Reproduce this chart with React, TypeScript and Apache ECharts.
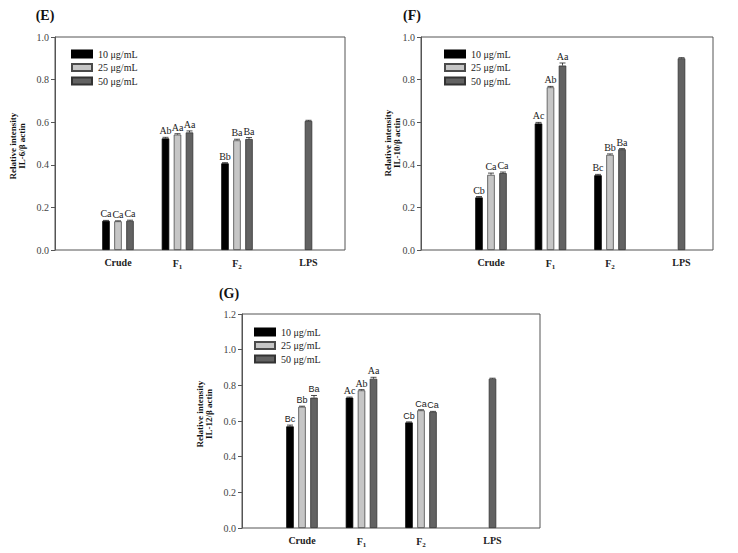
import React, { useEffect, useRef } from 'react';
import * as echarts from 'echarts';

// ---------- data ----------
const CATEGORIES = ['Crude', 'F1', 'F2', 'LPS'];
const DOSES = ['10 μg/mL', '25 μg/mL', '50 μg/mL'];

// (E) IL-6
const IL6_10 = [0.137, 0.524, 0.407, null];
const IL6_25 = [0.135, 0.542, 0.515, null];
const IL6_50 = [0.137, 0.552, 0.521, 0.606];
const IL6_10_ERR = [0.002, 0.005, 0.003, null];
const IL6_25_ERR = [0.002, 0.004, 0.005, null];
const IL6_50_ERR = [0.003, 0.007, 0.007, 0.003];
const IL6_10_SIG = ['Ca', 'Ab', 'Bb', ''];
const IL6_25_SIG = ['Ca', 'Aa', 'Ba', ''];
const IL6_50_SIG = ['Ca', 'Aa', 'Ba', ''];

// (F) IL-10
const IL10_10 = [0.247, 0.594, 0.351, null];
const IL10_25 = [0.353, 0.764, 0.447, null];
const IL10_50 = [0.361, 0.866, 0.473, 0.9];
const IL10_10_ERR = [0.004, 0.005, 0.004, null];
const IL10_25_ERR = [0.008, 0.004, 0.004, null];
const IL10_50_ERR = [0.005, 0.012, 0.003, 0.003];
const IL10_10_SIG = ['Cb', 'Ac', 'Bc', ''];
const IL10_25_SIG = ['Ca', 'Ab', 'Bb', ''];
const IL10_50_SIG = ['Ca', 'Aa', 'Ba', ''];

// (G) IL-12
const IL12_10 = [0.57, 0.731, 0.592, null];
const IL12_25 = [0.68, 0.772, 0.66, null];
const IL12_50 = [0.731, 0.837, 0.651, 0.837];
const IL12_10_ERR = [0.007, 0.003, 0.003, null];
const IL12_25_ERR = [0.003, 0.004, 0.003, null];
const IL12_50_ERR = [0.012, 0.008, 0.003, 0.003];
const IL12_10_SIG = ['Bc', 'Ac', 'Cb', ''];
const IL12_25_SIG = ['Bb', 'Ab', 'Ca', ''];
const IL12_50_SIG = ['Ba', 'Aa', 'Ca', ''];
const IL12_SIG_SANS = [true, false, true, false];

const Y_MAX_IL6 = 1.0;
const Y_MAX_IL10 = 1.0;
const Y_MAX_IL12 = 1.2;
const Y_STEP = 0.2;

// ---------- styles ----------
const SERIF = "'Liberation Serif', 'Times New Roman', serif";
const SANS = "'Liberation Sans', Arial, sans-serif";
const BAR_W = 7.5;
const BAR_GAP = 4.5;
const PITCH = BAR_W + BAR_GAP;
const FILLS = ['#000000', '#c6c6c6', '#626262'];
const BORDERS = ['#000000', '#4a4a4a', '#333333'];
const AXIS_C = '#555555';
const TEXT_C = '#222222';

const PANELS = [
  {
    tag: '(E)', tagX: 45, tagY: 15,
    frame: { left: 55, top: 37, width: 290, height: 213 },
    dataLeft: 88.25, yMax: Y_MAX_IL6,
    legend: { left: 71, top: 48 },
    title: { x: 17, y: 146, text: 'Relative intensity\nIL-6/β actin' },
    values: [IL6_10, IL6_25, IL6_50],
    errs: [IL6_10_ERR, IL6_25_ERR, IL6_50_ERR],
    sigs: [IL6_10_SIG, IL6_25_SIG, IL6_50_SIG],
    sans: null as null | boolean[],
  },
  {
    tag: '(F)', tagX: 412, tagY: 15,
    frame: { left: 421, top: 37, width: 292, height: 213 },
    dataLeft: 461.25, yMax: Y_MAX_IL10,
    legend: { left: 444, top: 48 },
    title: { x: 392.5, y: 143, text: 'Relative intensity\nIL-10/β actin' },
    values: [IL10_10, IL10_25, IL10_50],
    errs: [IL10_10_ERR, IL10_25_ERR, IL10_50_ERR],
    sigs: [IL10_10_SIG, IL10_25_SIG, IL10_50_SIG],
    sans: null as null | boolean[],
  },
  {
    tag: '(G)', tagX: 229, tagY: 293,
    frame: { left: 242, top: 314, width: 298, height: 214 },
    dataLeft: 272.25, yMax: Y_MAX_IL12,
    legend: { left: 254, top: 326 },
    title: { x: 204.5, y: 414, text: 'Relative intensity\nIL-12/β actin' },
    values: [IL12_10, IL12_25, IL12_50],
    errs: [IL12_10_ERR, IL12_25_ERR, IL12_50_ERR],
    sigs: [IL12_10_SIG, IL12_25_SIG, IL12_50_SIG],
    sans: IL12_SIG_SANS as null | boolean[],
  },
];

function buildOption() {
  const grid: any[] = [];
  const xAxis: any[] = [];
  const yAxis: any[] = [];
  const series: any[] = [];
  const legend: any[] = [];
  const graphic: any[] = [];

  PANELS.forEach((p, pi) => {
    const frameIdx = pi * 2;
    const dataIdx = pi * 2 + 1;
    const catW = 59.5 * CATEGORIES.length;
    const pxPerUnit = p.frame.height / p.yMax;
    grid.push({
      left: p.frame.left, top: p.frame.top, width: p.frame.width, height: p.frame.height,
      show: true, borderColor: AXIS_C, borderWidth: 1, backgroundColor: 'transparent',
    });
    grid.push({
      left: p.dataLeft, top: p.frame.top, width: catW, height: p.frame.height, show: false,
    });
    xAxis.push({ type: 'value', gridIndex: frameIdx, show: false, min: 0, max: 1 });
    xAxis.push({
      type: 'category', gridIndex: dataIdx, data: CATEGORIES,
      axisLine: { show: false }, axisTick: { show: false }, splitLine: { show: false },
      axisLabel: {
        margin: 7, interval: 0,
        fontFamily: SERIF, fontWeight: 'bold', fontSize: 10, color: TEXT_C,
        formatter: (v: string) => {
          if (v === 'F1') return 'F{sub|1}';
          if (v === 'F2') return 'F{sub|2}';
          if (v === 'LPS') return '{lps|LPS}';
          return v;
        },
        rich: {
          sub: { fontFamily: SERIF, fontWeight: 'bold', fontSize: 7, color: TEXT_C, padding: [6, 0, 0, 0] },
          lps: { fontFamily: SERIF, fontWeight: 'bold', fontSize: 10, color: TEXT_C, padding: [0, 0, 0, 2 * PITCH] },
        },
      },
    });
    yAxis.push({
      type: 'value', gridIndex: frameIdx, min: 0, max: p.yMax, interval: Y_STEP,
      axisLine: { show: true, lineStyle: { color: AXIS_C, width: 1 } },
      axisTick: { show: true, inside: false, length: 4, lineStyle: { color: AXIS_C } },
      splitLine: { show: false },
      axisLabel: {
        margin: 6, fontFamily: SERIF, fontSize: 10, color: '#444444',
        formatter: (v: number) => v.toFixed(1),
      },
    });
    yAxis.push({ type: 'value', gridIndex: dataIdx, min: 0, max: p.yMax, show: false });

    p.values.forEach((vals, di) => {
      const errs = p.errs[di];
      const sigs = p.sigs[di];
      series.push({
        type: 'bar', name: DOSES[di], xAxisIndex: dataIdx, yAxisIndex: dataIdx,
        data: vals.map((v, ci) => {
          if (v == null) return '-';
          const sans = p.sans ? p.sans[ci] : false;
          return {
            value: v,
            label: {
              show: !!sigs[ci],
              distance: 1.5 + (errs[ci] ?? 0) * pxPerUnit,
              fontFamily: sans ? SANS : SERIF,
              fontSize: sans ? 9 : 10,
            },
          };
        }),
        barWidth: BAR_W, barGap: (BAR_GAP / BAR_W) * 100 + '%',
        itemStyle: { color: FILLS[di], borderColor: BORDERS[di], borderWidth: 0.8 },
        label: {
          show: true, position: 'top', color: TEXT_C,
          formatter: (prm: any) => sigs[prm.dataIndex] || '',
        },
        emphasis: { disabled: true }, z: 2,
      });
    });

    p.values.forEach((vals, di) => {
      const errs = p.errs[di];
      const items: any[] = [];
      vals.forEach((v, ci) => {
        if (v == null) return;
        items.push([ci, v, errs[ci] ?? 0]);
      });
      series.push({
        type: 'custom', xAxisIndex: dataIdx, yAxisIndex: dataIdx, z: 5, silent: true,
        itemStyle: { color: TEXT_C },
        data: items,
        renderItem: (params: any, api: any) => {
          const ci = api.value(0);
          const v = api.value(1);
          const e = api.value(2);
          const base = api.coord([ci, v]);
          const topP = api.coord([ci, v + e]);
          const cx = base[0] + (di - 1) * PITCH;
          return {
            type: 'group',
            children: [
              { type: 'line', shape: { x1: cx, y1: base[1], x2: cx, y2: topP[1] }, style: { stroke: TEXT_C, lineWidth: 0.8 } },
              { type: 'line', shape: { x1: cx - 3, y1: topP[1], x2: cx + 3, y2: topP[1] }, style: { stroke: TEXT_C, lineWidth: 0.8 } },
            ],
          };
        },
      });
    });

    legend.push({
      show: true, orient: 'vertical', left: p.legend.left, top: p.legend.top,
      padding: 0, itemGap: 1.5, itemWidth: 20, itemHeight: 7, icon: 'rect',
      selectedMode: false, data: DOSES,
      textStyle: { fontFamily: SERIF, fontSize: 10, color: TEXT_C, lineHeight: 12, padding: [0, 0, 0, 1] },
    });

    graphic.push({
      type: 'text', x: p.tagX, y: p.tagY,
      style: { text: p.tag, align: 'center', verticalAlign: 'middle', fontFamily: SERIF, fontWeight: 'bold', fontSize: 14, fill: '#111' },
    });
    graphic.push({
      type: 'text', x: p.title.x, y: p.title.y, rotation: Math.PI / 2,
      style: {
        text: p.title.text, align: 'center', verticalAlign: 'middle',
        fontFamily: SERIF, fontWeight: 'bold', fontSize: 9, lineHeight: 9, fill: '#111',
      },
    });
  });

  return {
    animation: false,
    backgroundColor: '#ffffff',
    grid, xAxis, yAxis, series, legend, graphic,
  };
}

export default function App() {
  const ref = useRef<HTMLDivElement>(null);
  useEffect(() => {
    if (!ref.current) return;
    const chart = echarts.init(ref.current, undefined, { renderer: 'svg' });
    chart.setOption(buildOption() as any);
    return () => chart.dispose();
  }, []);
  return (
    <div
      ref={ref}
      style={{ position: 'fixed', left: 0, top: 0, width: 738, height: 553, background: '#fff' }}
    />
  );
}
